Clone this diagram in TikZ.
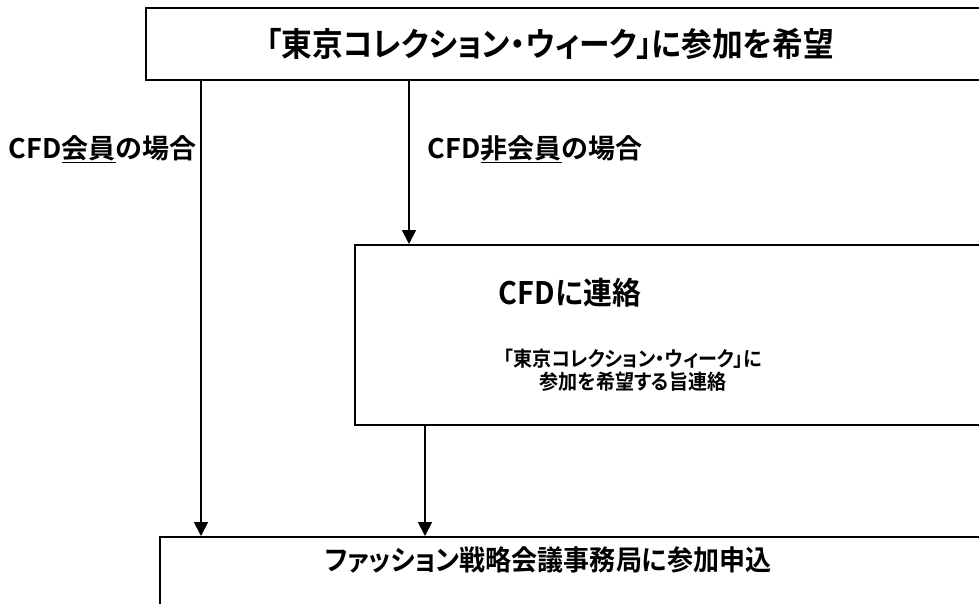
\documentclass[tikz,border=0pt]{standalone}
\usepackage{fontspec}
\setmainfont{Noto Sans CJK JP Bold}
\newfontfamily\condjp{Noto Sans CJK JP Bold}[RawFeature=+palt,FakeStretch=0.93]
\usetikzlibrary{arrows.meta}
\begin{document}
\begin{tikzpicture}[x=1pt,y=-1pt,line width=1.8pt,
  box/.style={draw,rectangle,anchor=north west,inner sep=0pt},
  conn/.style={-{Triangle[width=14pt,length=14pt]}},
  lbl/.style={inner sep=0pt,font=\fontsize{27}{30}\selectfont},
  ttl/.style={inner sep=0pt,font=\condjp\fontsize{33}{38}\selectfont},
  head/.style={inner sep=0pt,font=\condjp\fontsize{31}{34}\selectfont},
  sub/.style={inner sep=0pt,align=center,font=\condjp\fontsize{20.5}{23}\selectfont},
  btm/.style={inner sep=0pt,font=\condjp\fontsize{28}{32}\selectfont}]
\useasboundingbox (0,0) rectangle (979,603);
\clip (0,0) rectangle (979,603);
\node[box,minimum width=900pt,minimum height=72pt] (top) at (145,7) {};
\node[box,minimum width=700pt,minimum height=180pt] (mid) at (354,244) {};
\node[box,minimum width=900pt,minimum height=120pt] (bot) at (159,536) {};
\node[ttl] (ttop) at (550,44) {「東京コレクション・ウィーク」に参加を希望};
\node[head,anchor=west] (tmid) at (498,293) {CFDに連絡};
\node[sub] (tmid2) at (633,370) {「東京コレクション・ウィーク」に\\参加を希望する旨連絡};
\node[btm] (tbot) at (548,560) {ファッション戦略会議事務局に参加申込};
\node[lbl,anchor=west] (l1) at (8,149) {CFD\underline{会員}の場合};
\node[lbl,anchor=west] (l2) at (427,149) {CFD\underline{非会員}の場合};
\coordinate (s1) at (201,79);
\coordinate (s2) at (409,79);
\coordinate (s3) at (425,424);
\draw[conn] (s1) -- (s1 |- bot.north);
\draw[conn] (s2) -- (s2 |- mid.north);
\draw[conn] (s3) -- (s3 |- bot.north);
\end{tikzpicture}
\end{document}
